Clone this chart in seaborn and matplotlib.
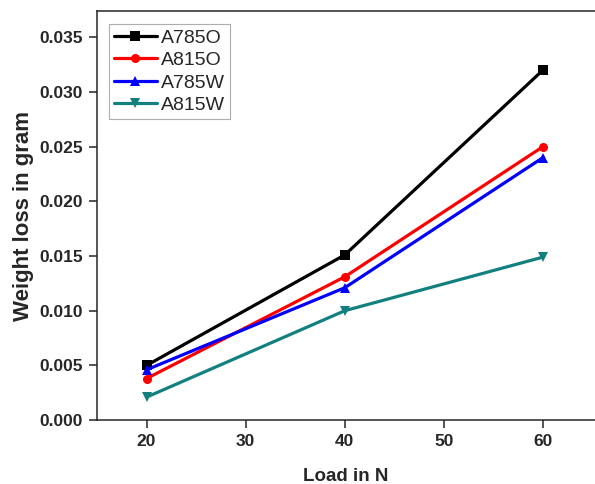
import pandas as pd
import seaborn as sns
import matplotlib.pyplot as plt
from matplotlib.ticker import FormatStrFormatter

# --- data ---
load = [20, 40, 60]
series_names = ['A785O', 'A815O', 'A785W', 'A815W']
a785o = [0.0050, 0.0151, 0.0320]
a815o = [0.0038, 0.0131, 0.0250]
a785w = [0.0046, 0.0121, 0.0240]
a815w = [0.0021, 0.0100, 0.0149]

df = pd.DataFrame({
    'Load': load * 4,
    'Weight': a785o + a815o + a785w + a815w,
    'Sample': [n for n in series_names for _ in load],
})

sns.set_style('ticks')
plt.rcParams['font.family'] = ['Liberation Sans', 'DejaVu Sans']

fig = plt.figure(figsize=(5.95, 4.84), dpi=100)
ax = fig.add_axes([0.163, 0.132, 0.837, 0.845])

palette = {'A785O': '#000000', 'A815O': '#ff0000', 'A785W': '#0000ff', 'A815W': '#138080'}
markers = {'A785O': 's', 'A815O': 'o', 'A785W': '^', 'A815W': 'v'}

sns.lineplot(data=df, x='Load', y='Weight', hue='Sample', style='Sample',
             hue_order=series_names, style_order=series_names,
             palette=palette, markers=markers, dashes=False,
             linewidth=2.3, markersize=6.5, markeredgewidth=0, ax=ax)

ax.set_xlim(15, 65.24)
ax.set_ylim(0, 0.03738)
ax.set_xticks([20, 30, 40, 50, 60])
ax.set_yticks([0, 0.005, 0.010, 0.015, 0.020, 0.025, 0.030, 0.035])
ax.yaxis.set_major_formatter(FormatStrFormatter('%.3f'))
ax.tick_params(direction='out', length=6, width=1.1, labelsize=12.5, pad=4)
for lab in ax.get_xticklabels() + ax.get_yticklabels():
    lab.set_fontweight('bold')

for s in ['left', 'bottom', 'top']:
    ax.spines[s].set_linewidth(1.1)
ax.spines['right'].set_visible(False)

ax.set_xlabel('Load in N', fontsize=13.5, fontweight='bold', labelpad=14)
ax.set_ylabel('Weight loss in gram', fontsize=16, fontweight='bold', labelpad=4)

leg = ax.legend(loc='upper left', bbox_to_anchor=(0.024, 0.968), fontsize=14,
                frameon=True, fancybox=False, edgecolor='#999999',
                handlelength=2.2, handletextpad=0.25, borderpad=0.25,
                labelspacing=0.25, borderaxespad=0)
leg.get_frame().set_linewidth(0.8)

plt.savefig('out.png', dpi=100)
